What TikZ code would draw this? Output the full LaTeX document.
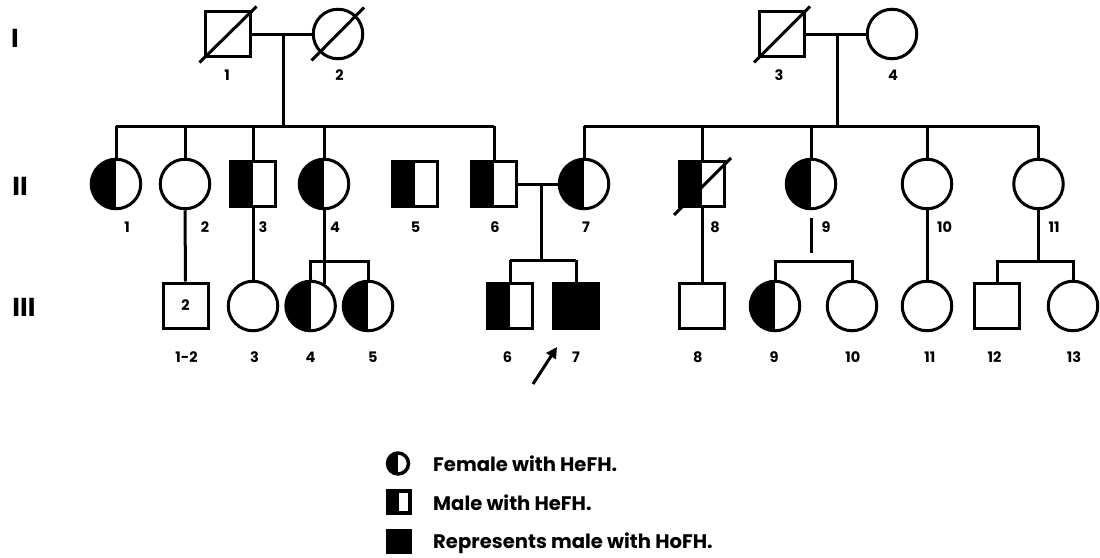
\documentclass[tikz,border=0pt]{standalone}
\usepackage{fontspec}
\setmainfont{Poppins}
\usetikzlibrary{arrows.meta}
\begin{document}
\begin{tikzpicture}[x=1pt,y=-1pt,
  conn/.style={line width=3pt},
  sym/.style={draw, line width=3pt, inner sep=0pt, fill=white},
  fem/.style={sym, circle, minimum size=49.5pt},
  mal/.style={sym, rectangle, minimum size=45pt},
  halfL/.style={path picture={\fill[black] (path picture bounding box.south west) rectangle (path picture bounding box.north);}},
  aff/.style={fill=black},
  lbl/.style={font=\bfseries\fontsize{14.5}{14.5}\selectfont, inner sep=0pt},
  gen/.style={font=\bfseries\fontsize{26}{26}\selectfont, inner sep=0pt},
  legtext/.style={font=\bfseries\fontsize{19.6}{19.6}\selectfont, inner sep=0pt, anchor=west},
  legf/.style={sym, circle, line width=3.5pt, minimum size=21pt},
  legm/.style={sym, rectangle, line width=3.5pt, minimum size=22pt},
  ]
\useasboundingbox (0,0) rectangle (1100,557);

% generation labels
\node[gen] (gI) at (15,38) {I};
\node[gen] (gII) at (20,186) {II};
\node[gen] (gIII) at (24,307) {III};

% ---------- coordinates for connectors ----------
\coordinate (m1) at (283,34);
\coordinate (s1) at (283,126);
\coordinate (m2) at (837.5,34);
\coordinate (s2) at (837.5,126);
\coordinate (m3) at (541,184);
\coordinate (s3) at (541,260);
\coordinate (b4) at (324,261);
\coordinate (b9) at (811,261);
\coordinate (b11) at (1038.5,261);
\coordinate (t9a) at (811,218);
\coordinate (t9b) at (811,253);
\coordinate (arrtail) at (533,384);
\coordinate (arrtip) at (557,347);

% ---------- Generation I ----------
\node[mal] (I1) at (227.5,34) {};
\node[fem] (I2) at (338,34) {};
\node[mal] (I3) at (782,34) {};
\node[fem] (I4) at (892,34) {};

% ---------- Generation II ----------
\node[fem, halfL] (II1) at (116,184) {};
\node[fem] (II2) at (185,184) {};
\node[mal, halfL] (II3) at (253,184) {};
\node[fem, halfL] (II4) at (324,184) {};
\node[mal, halfL] (II5) at (415,184) {};
\node[mal, halfL] (II6) at (494,184) {};
\node[fem, halfL] (II7) at (584,184) {};
\node[mal, halfL] (II8) at (702,184) {};
\node[fem, halfL] (II9) at (811,184) {};
\node[fem] (II10) at (927,184) {};
\node[fem] (II11) at (1038.5,184) {};

% ---------- Generation III ----------
\node[mal, font=\bfseries\fontsize{14.5}{14.5}\selectfont] (III1) at (185.5,305.5) {2};
\node[fem] (III3) at (253,306) {};
\node[fem, halfL] (III4) at (310.6,306) {};
\node[fem, halfL] (III5) at (368,306) {};
\node[mal, halfL] (III6) at (510,305.5) {};
\node[mal, aff] (III7) at (576,305.5) {};
\node[mal] (III8) at (702,305.5) {};
\node[fem, halfL] (III9) at (775,306) {};
\node[fem] (III10) at (852,306) {};
\node[fem] (III11) at (927,306) {};
\node[mal] (III12) at (997,305.5) {};
\node[fem] (III13) at (1073,306) {};

% ---------- connectors ----------
\draw[conn] (I1) -- (I2);
\draw[conn] (m1) -- (s1);
\draw[conn] (II1 |- s1) -- (II6 |- s1);
\foreach \c in {II1,II2,II3,II4,II6} \draw[conn] (\c |- s1) -- (\c.north);

\draw[conn] (I3) -- (I4);
\draw[conn] (m2) -- (s2);
\draw[conn] (II7 |- s2) -- (II11 |- s2);
\foreach \c in {II7,II8,II9,II10,II11} \draw[conn] (\c |- s2) -- (\c.north);

\draw[conn] (II6) -- (II7);
\draw[conn] (m3) -- (s3);
\draw[conn] (III6 |- s3) -- (III7 |- s3);
\foreach \c in {III6,III7} \draw[conn] (\c |- s3) -- (\c.north);

\draw[conn] (II2.south) -- (III1.north);
\draw[conn] (II3.south) -- (III3.north);
\draw[conn] (II4.south) -- (II4.south |- III4.57);
\draw[conn] (III4.north) -- (III4 |- b4) -- (III5 |- b4) -- (III5.north);

\draw[conn] (II8.south) -- (III8.north);
\draw[conn] (t9a) -- (t9b);
\draw[conn] (III9.north) -- (III9 |- b9) -- (III10 |- b9) -- (III10.north);
\draw[conn] (II10.south) -- (III11.north);
\draw[conn] (II11.south) -- (b11);
\draw[conn] (III12.north) -- (III12 |- b11) -- (III13 |- b11) -- (III13.north);

% deceased slashes
\draw[conn] ([shift={(-28,28.5)}]I1.center) -- ([shift={(29,-27.5)}]I1.center);
\draw[conn] ([shift={(-26.5,26.5)}]I2.center) -- ([shift={(26,-26.5)}]I2.center);
\draw[conn] ([shift={(-28,28.5)}]I3.center) -- ([shift={(28,-27.5)}]I3.center);
\draw[conn] ([shift={(-28,31)}]II8.center) -- ([shift={(29,-26)}]II8.center);

% proband arrow
\draw[conn, -{Triangle[length=11pt,width=11pt]}] (arrtail) -- (arrtip);

% ---------- number labels ----------
\node[lbl] (lI1) at (227,75) {1};
\node[lbl] (lI2) at (339.5,75) {2};
\node[lbl] (lI3) at (779,75) {3};
\node[lbl] (lI4) at (893,75) {4};

\node[lbl] (lII1) at (127,227) {1};
\node[lbl] (lII2) at (205,227) {2};
\node[lbl] (lII3) at (263,227) {3};
\node[lbl] (lII4) at (335,227) {4};
\node[lbl] (lII5) at (415.5,227) {5};
\node[lbl] (lII6) at (495,227) {6};
\node[lbl] (lII7) at (586,227) {7};
\node[lbl] (lII8) at (715,227) {8};
\node[lbl] (lII9) at (826,227) {9};
\node[lbl] (lII10) at (944.5,227) {10};
\node[lbl] (lII11) at (1054,227) {11};

\node[lbl] (lIII1) at (186.5,357.5) {1-2};
\node[lbl] (lIII3) at (254.5,357.5) {3};
\node[lbl] (lIII4) at (310.5,357.5) {4};
\node[lbl] (lIII5) at (372.8,357.5) {5};
\node[lbl] (lIII6) at (507.5,357.5) {6};
\node[lbl] (lIII7) at (576,357.5) {7};
\node[lbl] (lIII8) at (697.7,357.5) {8};
\node[lbl] (lIII9) at (774,357.5) {9};
\node[lbl] (lIII10) at (852.8,357.5) {10};
\node[lbl] (lIII11) at (929.8,357.5) {11};
\node[lbl] (lIII12) at (994.5,357.5) {12};
\node[lbl] (lIII13) at (1074,357.5) {13};

% ---------- legend ----------
\node[legf, halfL] (kf) at (398,463.5) {};
\node[legm, halfL] (km) at (399,502) {};
\node[legm, aff] (kh) at (399,541.5) {};
\node[legtext] (tf) at (433,463.5) {Female with HeFH.};
\node[legtext] (tm) at (433,503) {Male with HeFH.};
\node[legtext] (th) at (433,543) {Represents male with HoFH.};
\end{tikzpicture}
\end{document}
